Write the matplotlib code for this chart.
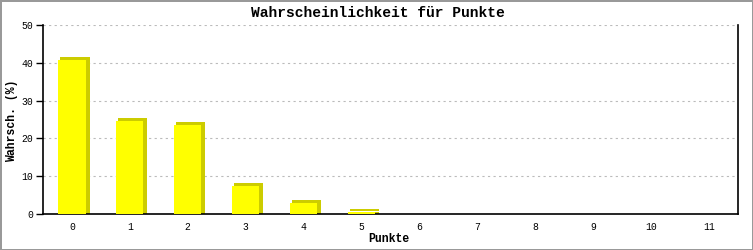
import matplotlib
matplotlib.use("Agg")
import matplotlib.pyplot as plt
import matplotlib.transforms as mtransforms
import numpy as np

punkte = ["0", "1", "2", "3", "4", "5", "6", "7", "8", "9", "10", "11"]
wahrsch = [40.8, 24.6, 23.5, 7.4, 2.9, 0.4, 0.1, 0, 0, 0, 0, 0]

plt.rcParams["font.family"] = ["Liberation Mono", "DejaVu Sans Mono"]

fig = plt.figure(figsize=(7.53, 2.5), dpi=100)
fig.patch.set_facecolor("white")
fig.patch.set_edgecolor("#999999")
fig.patch.set_linewidth(2)
ax = fig.add_axes([43 / 753, 36 / 250, 695 / 753, 189 / 250])

x = np.arange(len(punkte))
w = 0.47
# schatten (3D-Effekt)
for dx, dy in [(4, 0), (4, 3), (2, 3)]:
    tr = mtransforms.offset_copy(ax.transData, fig=fig, x=dx, y=dy, units="dots")
    ax.bar(x, wahrsch, width=w, color="#cccc00", transform=tr, zorder=2)
ax.bar(x, wahrsch, width=w, color="#ffff00", zorder=3)

ax.set_xlim(-0.5, len(punkte) - 0.5)
ax.set_ylim(0, 50)
ax.set_yticks([0, 10, 20, 30, 40, 50])
ax.set_xticks(x)
ax.set_xticklabels(punkte)
ax.tick_params(axis="x", length=0, labelsize=7, pad=6)
ax.tick_params(axis="y", length=5, width=1, labelsize=7, pad=2)
ax.grid(True, axis="y", color="#bbbbbb", linestyle=(0, (2, 3)), linewidth=0.8, zorder=0)
ax.set_axisbelow(True)
ax.spines["top"].set_visible(False)
for s in ["left", "bottom", "right"]:
    ax.spines[s].set_linewidth(1.2)

fig.text(378 / 753, 1 - 13 / 250, "Wahrscheinlichkeit für Punkte", fontsize=10.5,
         fontweight="bold", ha="center", va="center")
fig.text(389 / 753, 1 - 239 / 250, "Punkte", fontsize=8.3, fontweight="bold",
         ha="center", va="center")
fig.text(12 / 753, 1 - 121 / 250, "Wahrsch. (%)", fontsize=8.3, fontweight="bold",
         ha="center", va="center", rotation=90)

fig.savefig("out.png", dpi=100, facecolor=fig.get_facecolor(), edgecolor=fig.get_edgecolor())
